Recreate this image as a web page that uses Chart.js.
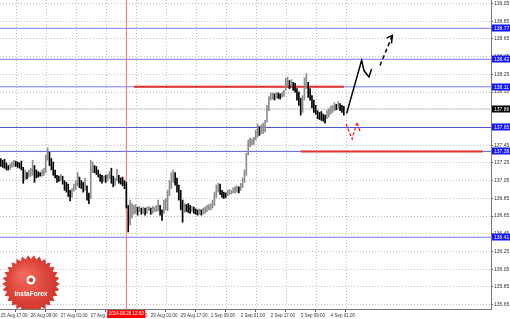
<!DOCTYPE html>
<html>
<head>
<meta charset="utf-8">
<script src="https://cdn.jsdelivr.net/npm/chart.js@4.4.0/dist/chart.umd.min.js"></script>
<style>
  html, body { margin: 0; padding: 0; background: #fff; }
</style>
</head>
<body>
<canvas id="chart" width="510" height="319"></canvas>
<script>
// hourly bars, 25 Aug 17:00 .. 4 Sep 08:00 (weekend skipped)
const barHigh = [
  137.30, 137.28, 137.29, 137.25, 137.22, 137.24, 137.26, 137.28, 137.27, 137.26,
  137.25, 137.27, 137.20, 137.17, 137.14, 137.17, 137.19, 137.28, 137.22, 137.17,
  137.15, 137.14, 137.17, 137.19, 137.34, 137.42, 137.37, 137.30, 137.26, 137.17,
  137.11, 137.10, 137.12, 137.10, 137.05, 137.03, 137.01, 136.94, 136.96, 137.01,
  137.05, 137.14, 137.09, 137.05, 137.03, 137.08, 136.99, 136.91, 137.28, 137.26,
  137.22, 137.21, 137.17, 137.12, 137.11, 137.10, 137.11, 137.12, 137.15, 137.19,
  137.10, 137.08, 137.18, 137.11, 137.08, 137.09, 137.05, 137.03, 136.77, 136.83,
  136.79, 136.77, 136.78, 136.75, 136.76, 136.74, 136.75, 136.74, 136.75, 136.76,
  136.74, 136.76, 136.75, 136.77, 136.83, 136.77, 136.72, 136.83, 136.85, 136.94,
  137.05, 137.14, 137.17, 137.14, 137.08, 137.00, 136.94, 136.83, 136.79, 136.78,
  136.79, 136.77, 136.76, 136.75, 136.73, 136.72, 136.73, 136.72, 136.74, 136.75,
  136.77, 136.78, 136.79, 136.83, 136.92, 137.00, 137.02, 137.01, 136.94, 136.92,
  136.91, 136.94, 136.95, 136.94, 136.97, 136.98, 136.99, 136.98, 137.02, 137.08,
  137.17, 137.36, 137.51, 137.53, 137.52, 137.54, 137.62, 137.69, 137.66, 137.68,
  137.70, 137.73, 137.90, 138.00, 138.04, 138.04, 138.03, 138.05, 138.04, 138.03,
  138.05, 138.07, 138.21, 138.22, 138.18, 138.19, 138.16, 138.15, 138.09, 138.05,
  137.98, 138.01, 138.21, 138.26, 138.16, 138.09, 138.01, 137.96, 137.90, 137.84,
  137.82, 137.83, 137.80, 137.79, 137.84, 137.86, 137.89, 137.90, 137.93, 137.91,
  137.94, 137.92, 137.90, 137.89
];
const barLow = [
  137.21, 137.20, 137.19, 137.17, 137.17, 137.18, 137.20, 137.21, 137.21, 137.20,
  137.19, 137.17, 137.02, 137.06, 137.07, 137.09, 137.10, 137.11, 137.03, 137.08,
  137.09, 137.10, 137.10, 137.11, 137.14, 137.28, 137.22, 137.17, 137.11, 137.08,
  137.03, 137.04, 137.05, 137.01, 136.94, 136.92, 136.87, 136.82, 136.86, 136.93,
  136.95, 136.99, 136.97, 136.96, 136.92, 136.94, 136.83, 136.79, 136.85, 137.14,
  137.14, 137.12, 137.09, 137.04, 137.02, 137.04, 137.03, 137.05, 137.07, 137.02,
  136.98, 137.00, 137.05, 137.02, 137.01, 136.99, 136.96, 136.74, 136.47, 136.55,
  136.63, 136.67, 136.68, 136.66, 136.70, 136.67, 136.68, 136.66, 136.68, 136.71,
  136.67, 136.68, 136.70, 136.70, 136.71, 136.66, 136.60, 136.68, 136.72, 136.71,
  136.88, 136.96, 137.03, 137.00, 136.92, 136.83, 136.72, 136.58, 136.69, 136.70,
  136.69, 136.68, 136.70, 136.68, 136.67, 136.66, 136.67, 136.66, 136.67, 136.68,
  136.70, 136.72, 136.72, 136.74, 136.77, 136.86, 136.92, 136.89, 136.86, 136.85,
  136.86, 136.88, 136.89, 136.90, 136.91, 136.91, 136.92, 136.91, 136.94, 136.97,
  137.03, 137.11, 137.34, 137.43, 137.45, 137.46, 137.51, 137.54, 137.56, 137.58,
  137.58, 137.60, 137.71, 137.84, 137.96, 137.97, 137.96, 137.98, 137.98, 137.97,
  137.99, 138.00, 138.07, 138.12, 138.09, 138.12, 138.07, 138.05, 137.96, 137.90,
  137.79, 137.82, 137.96, 138.09, 137.99, 137.96, 137.87, 137.82, 137.80, 137.75,
  137.74, 137.73, 137.72, 137.70, 137.75, 137.77, 137.80, 137.82, 137.84, 137.85,
  137.86, 137.84, 137.82, 137.79
];

const xTickLabels = ['25 Aug 17:00', '26 Aug 09:00', '27 Aug 01:00', '27 Aug 17:00', '28 Aug 09:00',
  '29 Aug 01:00', '29 Aug 17:00', '1 Sep 09:00', '2 Sep 01:00', '2 Sep 17:00', '3 Sep 09:00', '4 Sep 01:00'];
const barsPerTick = 16;
const yTickLabels = [139.05, 138.85, 138.65, 138.45, 138.25, 138.05, 137.85, 137.65, 137.45, 137.25,
  137.05, 136.85, 136.65, 136.45, 136.25, 136.05, 135.85, 135.65];

const blueLevels = [138.77, 138.42, 138.11, 137.65, 137.38, 136.41];
const blueColors = ['#7a7aff', '#7a7aff', '#7a7aff', '#5050d8', '#6060e8', '#7a7aff'];
const currentPrice = 137.86;

const redLevels = [138.11, 137.38];
const redFrom = [71, 160];
const redTo = [183, 257];

const markerBar = 67;
const markerLabel = '2014.08.28 12:00';

// forecast drawings, [bar index, price]
const forecastPath = [[184.5, 137.81], [192.5, 138.41], [193.8, 138.29], [196.4, 138.22], [197.8, 138.31]];
const forecastDashed = [[202.3, 138.35], [208.7, 138.68]];
const forecastHead = [[205.8, 138.66], [208.9, 138.69], [208.4, 138.60]];
const pullbackPath = [[184.2, 137.69], [187.4, 137.52], [190.0, 137.71], [191.6, 137.61]];

const xMin = -0.4, xMax = 261.5;
const yMin = 135.60, yMax = 139.09;

const FONT = '"Liberation Sans", Arial, sans-serif';

const barColors = barHigh.map(function(h, i) {
    if (i === 0) return '#000';
    const mid = (h + barLow[i]) / 2;
    const prev = (barHigh[i - 1] + barLow[i - 1]) / 2;
    return mid > prev ? '#8c8c8c' : '#000';
});

function lineSet(points, color, width, dash, order) {
    return {
        type: 'line',
        data: points.map(function(p) { return { x: p[0], y: p[1] }; }),
        borderColor: color,
        borderWidth: width,
        borderDash: dash || [],
        pointRadius: 0,
        tension: 0,
        fill: false,
        order: order
    };
}

const datasets = [];

// bars
datasets.push({
    type: 'bar',
    data: barHigh.map(function(h, i) { return { x: i, y: [barLow[i], h] }; }),
    backgroundColor: barColors,
    barThickness: 1,
    grouped: false,
    order: 2
});

// support / resistance levels
blueLevels.forEach(function(v, k) {
    datasets.push(lineSet([[xMin, v], [xMax, v]], blueColors[k], 1, [], 6));
});
datasets.push(lineSet([[xMin, currentPrice], [xMax, currentPrice]], '#d0d0d0', 1, [], 7));
redLevels.forEach(function(v, k) {
    datasets.push(lineSet([[redFrom[k], v], [redTo[k], v]], '#e8322b', 2, [], 4));
});
datasets.push(lineSet([[markerBar, yMin], [markerBar, yMax]], '#ff6a6a', 1, [], 5));

// forecast arrows
datasets.push(lineSet(forecastPath, '#000', 1.5, [], 0));
datasets.push(lineSet(forecastDashed, '#000', 1.5, [4, 3], 0));
datasets.push(lineSet(forecastHead, '#000', 1.5, [], 0));
datasets.push(lineSet(pullbackPath, '#ff1a1a', 1.3, [3, 2], 0));

function drawLogo(ctx, area) {
    const cx = area.left + 31, cy = area.bottom - 25;
    ctx.save();
    ctx.beginPath();
    ctx.rect(area.left, area.top, area.right - area.left, area.bottom - area.top);
    ctx.clip();
    const teeth = 30;
    ctx.beginPath();
    for (let k = 0; k < teeth * 2; k++) {
        const r = k % 2 ? 25 : 29;
        const a = k * Math.PI / teeth;
        ctx.lineTo(cx + r * Math.cos(a), cy + r * Math.sin(a));
    }
    ctx.closePath();
    const g = ctx.createRadialGradient(cx - 8, cy - 10, 2, cx, cy, 30);
    g.addColorStop(0, '#f0695c');
    g.addColorStop(1, '#d03026');
    ctx.fillStyle = g;
    ctx.fill();
    // emblem
    ctx.fillStyle = '#fff';
    ctx.beginPath();
    ctx.arc(cx, cy - 4, 4.5, 0, Math.PI * 2);
    ctx.fill();
    ctx.fillStyle = '#de3b30';
    ctx.beginPath();
    ctx.arc(cx, cy - 4, 2.2, 0, Math.PI * 2);
    ctx.fill();
    ctx.fillStyle = '#fff';
    ctx.font = 'bold 6.5px ' + FONT;
    ctx.textAlign = 'center';
    ctx.textBaseline = 'middle';
    ctx.fillText('InstaForex', cx, cy + 10);
    ctx.restore();
}

const labelsPlugin = {
    id: 'mtLabels',
    afterDraw: function(chart) {
        const ctx = chart.ctx;
        const area = chart.chartArea;
        const ys = chart.scales.y;
        const xs = chart.scales.x;

        drawLogo(ctx, area);

        ctx.save();
        ctx.font = '5px ' + FONT;
        ctx.textBaseline = 'middle';
        ctx.textAlign = 'left';
        // price boxes
        blueLevels.forEach(function(v) {
            const y = Math.round(ys.getPixelForValue(v));
            ctx.fillStyle = '#1414ff';
            ctx.fillRect(area.right + 1, y - 3.5, chart.width - area.right - 1, 7);
            ctx.fillStyle = '#fff';
            ctx.fillText(v.toFixed(2), area.right + 3, y + 0.5);
        });
        const yc = Math.round(ys.getPixelForValue(currentPrice));
        ctx.fillStyle = '#000';
        ctx.fillRect(area.right + 1, yc - 3.5, chart.width - area.right - 1, 7);
        ctx.fillStyle = '#fff';
        ctx.fillText(currentPrice.toFixed(2), area.right + 3, yc + 0.5);

        // time marker box
        const xm = xs.getPixelForValue(markerBar);
        ctx.font = '4.5px ' + FONT;
        ctx.textAlign = 'center';
        ctx.fillStyle = '#ff0000';
        ctx.fillRect(xm - 19, area.bottom + 1, 38, 8);
        ctx.fillStyle = '#fff';
        ctx.fillText(markerLabel, xm, area.bottom + 5);
        ctx.restore();
    }
};

new Chart(document.getElementById('chart'), {
    data: { datasets: datasets },
    plugins: [labelsPlugin],
    options: {
        responsive: false,
        animation: false,
        devicePixelRatio: 1,
        layout: { padding: 0 },
        plugins: { legend: { display: false }, tooltip: { enabled: false } },
        scales: {
            x: {
                type: 'linear',
                position: 'bottom',
                min: xMin,
                max: xMax,
                offset: false,
                afterBuildTicks: function(scale) {
                    scale.ticks = xTickLabels.map(function(_, k) { return { value: k * barsPerTick }; });
                },
                afterFit: function(scale) {
                    scale.height = 10;
                    scale.paddingLeft = 0;
                    scale.paddingRight = 0;
                },
                ticks: {
                    callback: function(value, index) { return xTickLabels[index]; },
                    align: 'start',
                    autoSkip: false,
                    maxRotation: 0,
                    minRotation: 0,
                    padding: 1,
                    color: '#333',
                    font: { size: 4.5, family: FONT }
                },
                grid: { drawOnChartArea: false, drawTicks: true, tickLength: 3, tickColor: '#555' },
                border: { color: '#777' }
            },
            xg: {
                type: 'linear',
                position: 'bottom',
                min: xMin,
                max: xMax,
                afterBuildTicks: function(scale) {
                    scale.ticks = xTickLabels.map(function(_, k) { return { value: k * barsPerTick + 8.5 }; });
                },
                afterFit: function(scale) {
                    scale.height = 0;
                    scale.paddingLeft = 0;
                    scale.paddingRight = 0;
                },
                ticks: { display: false },
                grid: { color: '#bdbdbd', drawTicks: false },
                border: { display: false, dash: [1, 2] }
            },
            y: {
                type: 'linear',
                position: 'right',
                min: yMin,
                max: yMax,
                afterBuildTicks: function(scale) {
                    scale.ticks = yTickLabels.map(function(v) { return { value: v }; });
                },
                afterFit: function(scale) {
                    scale.width = 19;
                    scale.paddingTop = 0;
                    scale.paddingBottom = 0;
                },
                ticks: {
                    callback: function(value) { return value.toFixed(2); },
                    padding: 1,
                    color: '#333',
                    font: { size: 5, family: FONT }
                },
                grid: { color: '#bdbdbd', drawTicks: true, tickLength: 2, tickColor: '#555' },
                border: { color: '#777', dash: [1, 2] }
            }
        }
    }
});
</script>
</body>
</html>
